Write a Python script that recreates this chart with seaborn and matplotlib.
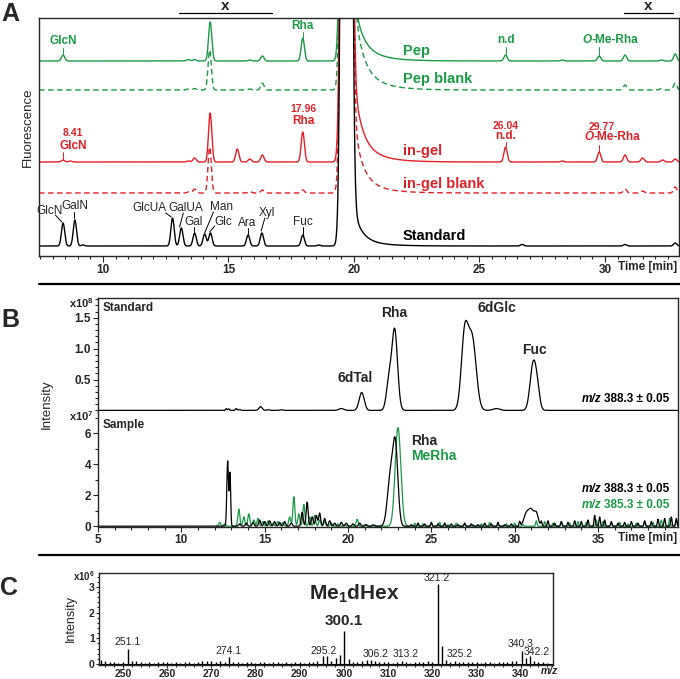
import numpy as np
import matplotlib
matplotlib.use('Agg')
import matplotlib.pyplot as plt
import seaborn as sns
from matplotlib.lines import Line2D
from matplotlib.offsetbox import TextArea, HPacker, AnnotationBbox
from matplotlib.ticker import MultipleLocator, FixedLocator

sns.set_style('ticks')
plt.rcParams['font.family'] = ['Liberation Sans', 'DejaVu Sans']
plt.rcParams['font.weight'] = 'bold'
plt.rcParams['mathtext.fontset'] = 'custom'
plt.rcParams['mathtext.rm'] = 'Liberation Sans'
plt.rcParams['mathtext.bf'] = 'Liberation Sans:bold'
plt.rcParams['mathtext.it'] = 'Liberation Sans:italic'
plt.rcParams['axes.linewidth'] = 1.0

GREEN = '#1c9a48'
RED = '#e3202a'
W, H = 680, 679

# ---------------- panel A: fluorescence traces (peak tables) ----------------
a_names = ['Pep', 'Pep blank', 'in-gel', 'in-gel blank', 'Standard']
a_offsets = [195, 166, 94, 63, 10]
a_colors = [GREEN, GREEN, RED, RED, 'black']
a_dashed = [False, True, False, True, False]

pep_rt = [8.41, 13.4, 13.65, 14.27, 15.85, 16.35, 17.96, 26.04, 28.3, 29.77, 30.8, 32.25, 32.8]
pep_h = [6, 1.5, 1.5, 39, 1, 5, 23, 6, 1, 5, 6, 1, 7]
pepb_rt = [13.4, 13.65, 14.25, 15.85, 16.35, 30.8, 32.25, 32.8]
pepb_h = [1, 1.5, 40, 1, 7, 5, 1.5, 7]
gel_rt = [8.41, 8.7, 13.4, 13.65, 14.27, 15.35, 15.85, 16.35, 17.96, 26.04, 28.3, 29.77, 30.8, 31.5, 32.3, 32.8]
gel_h = [2, 1, 1, 4, 49, 13, 3, 7, 30, 15, 1, 10, 7, 4, 2, 3]
gelb_rt = [13.4, 13.65, 14.25, 15.85, 16.35, 17.96, 30.8, 31.5, 32.8]
gelb_h = [1, 4, 46, 1.5, 3, 3, 4, 2, 6]
std_rt = [8.41, 8.88, 9.2, 12.77, 13.12, 13.65, 14.05, 14.28, 15.78, 16.33, 17.96, 18.6, 26.7, 30.8, 32.8]
std_h = [23, 26, 1, 28, 18, 13, 12, 13, 11, 13, 11, 1, 1.5, 1.5, 3]
a_sd = 0.065

void_rt, void_h, void_sd = 19.7, 3000, 0.12
a_tail_fast = [45, 65, 60, 55, 28]
a_tail_slow = [18, 26, 21, 18, 8]

# ---------------- panel B: extracted ion chromatograms ----------------
bs_rt = [12.7, 12.85, 13.3, 13.5, 14.75, 15.2, 16.0, 19.6, 20.82, 22.45, 22.8, 27.0, 27.45, 28.9, 31.1, 31.35]
bs_h = [0.03, 0.025, 0.03, 0.015, 0.06, 0.01, 0.01, 0.03, 0.29, 0.45, 1.3, 1.2, 1.15, 0.03, 0.72, 0.3]
bs_sd = [0.04, 0.04, 0.05, 0.05, 0.1, 0.08, 0.08, 0.15, 0.15, 0.15, 0.17, 0.2, 0.24, 0.2, 0.18, 0.15]

bk_rt = [12.78, 12.92, 13.5, 13.9, 14.3, 14.7, 15.0, 15.3, 15.6, 15.9, 16.2, 16.6, 17.25, 17.55,
         17.85, 18.1, 18.3, 18.6, 18.9, 19.2, 19.6, 19.9, 20.3, 20.7, 21.1, 21.5, 22.55, 22.85,
         23.8, 24.2, 24.6, 25.0, 25.4, 25.8, 26.2, 26.6, 27.0, 27.4, 27.8, 28.2, 28.6, 29.0, 29.4,
         29.8, 30.3, 30.7, 31.0, 31.3, 31.6, 32.0, 32.4, 32.8, 33.2, 33.6, 34.0, 34.4, 34.8, 35.1,
         35.4, 35.8, 36.2, 36.6, 37.0, 37.4, 37.8, 38.2, 38.6, 39.0, 39.4, 39.7]
bk_h = [4.2, 3.4, 0.15, 0.2, 0.25, 0.4, 0.3, 0.35, 0.3, 0.25, 0.3, 0.2, 0.9, 1.55,
        0.6, 0.7, 0.85, 0.5, 0.35, 0.2, 0.25, 0.2, 0.15, 0.2, 0.1, 0.08, 3.2, 4.8,
        0.1, 0.2, 0.15, 0.25, 0.15, 0.2, 0.15, 0.1, 0.2, 0.15, 0.1, 0.2, 0.15, 0.25, 0.1,
        0.15, 0.3, 0.8, 1.0, 0.8, 0.3, 0.35, 0.2, 0.3, 0.25, 0.35, 0.3, 0.4, 0.7, 0.6,
        0.4, 0.3, 0.2, 0.25, 0.3, 0.2, 0.35, 0.3, 0.45, 0.5, 0.6, 0.5]
bk_sd = [0.05, 0.04] + [0.06] * 24 + [0.18, 0.15] + [0.04] * 17 + [0.15, 0.15, 0.12] + [0.04] * 22

gr_rt = [12.3, 12.6, 13.45, 13.75, 14.05, 14.35, 14.6, 14.9, 15.2, 15.5, 15.8, 16.1, 16.5, 16.75,
         17.05, 17.35, 17.7, 18.0, 18.3, 18.6, 19.0, 19.4, 19.8, 20.55, 21.0, 21.6, 23.0,
         24.0, 24.5, 25.0, 25.5, 26.0, 26.5, 27.0, 27.5, 28.0, 28.5, 29.0, 29.5, 30.0, 30.5,
         31.3, 31.8, 32.3, 32.8, 33.3, 33.8, 34.3, 34.9, 35.3, 35.8, 36.3, 36.8, 37.3, 37.8,
         38.3, 38.8, 39.3, 39.7]
gr_h = [0.25, 0.15, 1.1, 0.6, 0.8, 0.4, 0.5, 0.3, 0.35, 0.2, 0.3, 0.25, 0.6, 1.9,
        0.8, 1.4, 0.6, 0.7, 0.4, 0.3, 0.2, 0.15, 0.1, 0.45, 0.1, 0.08, 6.35,
        0.2, 0.15, 0.2, 0.25, 0.1, 0.2, 0.15, 0.1, 0.15, 0.25, 0.1, 0.15, 0.2, 0.1,
        0.35, 0.3, 0.2, 0.3, 0.2, 0.3, 0.25, 0.4, 0.3, 0.2, 0.25, 0.15, 0.2, 0.3,
        0.25, 0.4, 0.5, 0.4]
gr_sd = [0.06] * 26 + [0.17] + [0.04] * 32

# ---------------- panel C: MS spectrum (x10^6) ----------------
c_mz = [245, 246, 247, 248, 249, 250, 251.1, 252, 253, 254, 255, 256, 257, 258, 259, 260,
        261, 262, 263, 264, 265, 266, 267, 268, 269, 270, 271, 272, 273, 274.1, 275, 276,
        277, 278, 279, 280, 281, 282, 283, 284, 285, 286, 287, 288, 289, 290, 291, 292,
        293, 294, 295.2, 296.2, 297, 298.2, 299.2, 300.1, 301.1, 302, 303, 304, 305.2, 306.2,
        307, 308, 309, 310, 311, 312, 313.2, 314, 315, 316, 317, 318, 319, 320, 321.2,
        322.2, 323, 324, 325.2, 326, 327, 328, 329, 330, 331, 332, 333, 334, 335, 336,
        337, 338, 339, 340.3, 341.3, 342.2, 343, 344, 345, 346]
c_int = [0.14, 0.10, 0.07, 0.06, 0.05, 0.07, 0.58, 0.12, 0.10, 0.06, 0.05, 0.07, 0.05,
         0.06, 0.08, 0.06, 0.05, 0.07, 0.05, 0.06, 0.07, 0.05, 0.06, 0.10, 0.13, 0.10,
         0.08, 0.12, 0.07, 0.26, 0.08, 0.06, 0.05, 0.06, 0.07, 0.05, 0.06, 0.08, 0.05,
         0.06, 0.07, 0.05, 0.06, 0.05, 0.06, 0.07, 0.05, 0.06, 0.08, 0.10, 0.30, 0.30,
         0.12, 0.22, 0.35, 1.30, 0.20, 0.08, 0.06, 0.10, 0.14, 0.17, 0.12, 0.08, 0.07,
         0.06, 0.05, 0.07, 0.12, 0.06, 0.05, 0.07, 0.06, 0.08, 0.10, 0.07, 3.10, 0.68,
         0.15, 0.08, 0.12, 0.07, 0.06, 0.08, 0.06, 0.07, 0.05, 0.06, 0.07, 0.05, 0.06,
         0.08, 0.07, 0.10, 0.12, 0.52, 0.22, 0.30, 0.12, 0.07, 0.06, 0.05]


def peaks(t, rts, hs, sds):
    sds = np.broadcast_to(sds, (len(rts),))
    y = np.zeros_like(t)
    for r, h, s in zip(rts, hs, sds):
        y += h * np.exp(-0.5 * ((t - r) / s) ** 2)
    return y


def fpx(x, y):
    return x / W, 1 - y / H


def box(l, t, r, b):
    return [l / W, 1 - b / H, (r - l) / W, (b - t) / H]


def styled(ax, xy, parts, size, color, align):
    kids = [TextArea(s, textprops=dict(fontsize=size, color=color, fontweight='bold', fontstyle=st))
            for s, st in parts]
    pack = HPacker(children=kids, pad=0, sep=2 if len(parts) > 1 and parts[0][0] == 'm/z' else 0,
                   align='baseline')
    ab = AnnotationBbox(pack, xy, xycoords='data', box_alignment=align, frameon=False, pad=0)
    ax.add_artist(ab)


def bold_ticks(ax, size):
    for lab in ax.get_xticklabels() + ax.get_yticklabels():
        lab.set_fontweight('bold')
        lab.set_fontsize(size)


fig = plt.figure(figsize=(6.8, 6.79), dpi=100)
ax_a = fig.add_axes(box(39, 18, 679, 256))
ax_bs = fig.add_axes(box(98, 298, 678, 411))
ax_bm = fig.add_axes(box(98, 411, 678, 527), sharex=ax_bs)
ax_c = fig.add_axes(box(99, 573, 553, 665))

# ---- panel A ----
t_a = np.arange(7.3, 33.1, 0.01)
a_tables = [(pep_rt, pep_h), (pepb_rt, pepb_h), (gel_rt, gel_h), (gelb_rt, gelb_h), (std_rt, std_h)]
for i, (rts, hs) in enumerate(a_tables):
    y = a_offsets[i] + peaks(t_a, rts, hs, a_sd) + peaks(t_a, [void_rt], [void_h], void_sd)
    tail = a_tail_fast[i] * np.exp(-(t_a - 20) / 0.3) + a_tail_slow[i] * np.exp(-(t_a - 20) / 0.8)
    y = y + np.where(t_a > void_rt, tail, 0)
    sns.lineplot(x=t_a, y=y, ax=ax_a, color=a_colors[i], lw=1.0, estimator=None,
                 linestyle=(0, (4, 2.5)) if a_dashed[i] else '-')

ax_a.set_xlim(7.45, 32.95)
ax_a.set_ylim(0, 238)
ax_a.set_yticks([])
ax_a.xaxis.set_major_locator(FixedLocator([10, 15, 20, 25, 30]))
ax_a.xaxis.set_minor_locator(MultipleLocator(0.5))
ax_a.tick_params(axis='x', which='major', length=4, width=0.8, pad=1.5)
ax_a.tick_params(axis='x', which='minor', length=2.5, width=0.8)
ax_a.set_xlabel('')
ax_a.set_ylabel('')
bold_ticks(ax_a, 8.5)

label_y = [205, 177, 105, 72, 20]
for name, yy, c in zip(a_names, label_y, a_colors):
    ax_a.text(21.95, yy, name, color=c, fontsize=10.5, fontweight='bold', va='center', ha='left')

# standard peak labels with leaders
std_labels = [('GlcN', 7.89, 45, (8.1, 41, 8.36, 34)),
              ('GalN', 8.88, 50, (8.86, 44, 8.86, 38)),
              ('GlcUA', 11.85, 48, (12.5, 43, 12.72, 39)),
              ('GalUA', 13.3, 48, (13.2, 43, 13.05, 29)),
              ('Gal', 13.62, 34, (13.64, 29, 13.64, 24)),
              ('Man', 14.74, 49, (14.4, 44, 14.05, 23)),
              ('Glc', 14.8, 34, (14.45, 30, 14.25, 24)),
              ('Ara', 15.74, 33, (15.76, 28, 15.76, 22)),
              ('Xyl', 16.55, 43, (16.45, 38, 16.3, 25)),
              ('Fuc', 17.96, 34, (17.96, 29, 17.96, 22))]
for name, tx, ty, (x0, y0, x1, y1) in std_labels:
    ax_a.text(tx, ty, name, fontsize=8.5, fontweight='normal', ha='center', va='center')
    ax_a.plot([x0, x1], [y0, y1], color='black', lw=0.7)

# green labels
ax_a.text(8.41, 209, 'GlcN', color=GREEN, fontsize=8.5, ha='center', va='bottom')
ax_a.plot([8.41, 8.41], [202, 208], color=GREEN, lw=0.7)
ax_a.text(17.96, 224, 'Rha', color=GREEN, fontsize=8.5, ha='center', va='bottom')
ax_a.plot([17.96, 17.96], [219, 224], color=GREEN, lw=0.7)
ax_a.text(26.04, 210, 'n.d', color=GREEN, fontsize=8.5, ha='center', va='bottom')
ax_a.plot([26.04, 26.04], [202, 209], color=GREEN, lw=0.7)
styled(ax_a, (30.2, 210), [('O', 'italic'), ('-Me-Rha', 'normal')], 8.5, GREEN, (0.5, 0))
ax_a.plot([29.77, 29.77], [201, 209], color=GREEN, lw=0.7)

# red labels
ax_a.text(8.8, 123, '8.41', color=RED, fontsize=7.5, ha='center', va='center')
ax_a.text(8.8, 110, 'GlcN', color=RED, fontsize=8.5, ha='center', va='center')
ax_a.plot([8.41, 8.41], [97, 104], color=RED, lw=0.7)
ax_a.text(17.97, 147, '17.96', color=RED, fontsize=7.5, ha='center', va='center')
ax_a.text(17.97, 135, 'Rha', color=RED, fontsize=8.5, ha='center', va='center')
ax_a.text(26.06, 130, '26.04', color=RED, fontsize=7.5, ha='center', va='center')
ax_a.text(26.06, 120, 'n.d.', color=RED, fontsize=8.5, ha='center', va='center')
ax_a.plot([26.04, 26.04], [110, 114], color=RED, lw=0.7)
ax_a.text(29.88, 129, '29.77', color=RED, fontsize=7.5, ha='center', va='center')
styled(ax_a, (30.3, 119), [('O', 'italic'), ('-Me-Rha', 'normal')], 8.5, RED, (0.5, 0.5))
ax_a.plot([29.77, 29.77], [104, 111], color=RED, lw=0.7)

# ---- panel B ----
t_b = np.arange(5.0, 39.85, 0.01)
y_std = peaks(t_b, bs_rt, bs_h, bs_sd)
y_bk = peaks(t_b, bk_rt, bk_h, bk_sd)
y_gr = np.where(t_b > 12.1, peaks(t_b, gr_rt, gr_h, gr_sd), np.nan)
sns.lineplot(x=t_b, y=y_std, ax=ax_bs, color='black', lw=0.9, estimator=None)
sns.lineplot(x=t_b, y=y_gr, ax=ax_bm, color=GREEN, lw=0.9, estimator=None)
sns.lineplot(x=t_b, y=y_bk, ax=ax_bm, color='black', lw=0.9, estimator=None)

ax_bs.set_xlim(5, 39.8)
ax_bs.set_ylim(-0.01, 1.82)
ax_bm.set_ylim(-0.05, 7.42)
ax_bs.spines['bottom'].set_visible(False)
ax_bm.spines['top'].set_visible(False)
ax_bs.tick_params(axis='x', which='both', bottom=False, labelbottom=False)
ax_bs.yaxis.set_major_locator(FixedLocator([0.5, 1.0, 1.5]))
ax_bs.yaxis.set_minor_locator(MultipleLocator(0.1))
ax_bm.yaxis.set_major_locator(FixedLocator([0, 2, 4, 6]))
ax_bm.yaxis.set_minor_locator(MultipleLocator(1))
ax_bm.xaxis.set_major_locator(FixedLocator([5, 10, 15, 20, 25, 30, 35]))
ax_bm.xaxis.set_minor_locator(MultipleLocator(1))
for ax in (ax_bs, ax_bm):
    ax.tick_params(which='major', length=3.5, width=0.8, pad=1.5)
    ax.tick_params(which='minor', length=2, width=0.8)
    ax.set_xlabel('')
    ax.set_ylabel('')
bold_ticks(ax_bs, 8.5)
bold_ticks(ax_bm, 8.5)

ax_bs.text(5.25, 1.66, 'Standard', fontsize=8.5, va='center', ha='left')
ax_bs.text(20.45, 0.52, '6dTal', fontsize=10, va='center', ha='center')
ax_bs.text(22.8, 1.58, 'Rha', fontsize=10, va='center', ha='center')
ax_bs.text(28.93, 1.65, '6dGlc', fontsize=10, va='center', ha='center')
ax_bs.text(31.16, 0.98, 'Fuc', fontsize=10, va='center', ha='center')
styled(ax_bs, (39.27, 0.18), [('m/z', 'italic'), ('388.3 ± 0.05', 'normal')], 8.5, 'black', (1, 0.5))

ax_bm.text(5.25, 6.5, 'Sample', fontsize=8.5, va='center', ha='left')
ax_bm.text(23.76, 5.48, 'Rha', fontsize=10, va='center', ha='left')
ax_bm.text(23.76, 4.52, 'MeRha', fontsize=10, va='center', ha='left', color=GREEN)
styled(ax_bm, (39.27, 2.39), [('m/z', 'italic'), ('388.3 ± 0.05', 'normal')], 8.5, 'black', (1, 0.5))
styled(ax_bm, (39.27, 1.35), [('m/z', 'italic'), ('385.3 ± 0.05', 'normal')], 8.5, GREEN, (1, 0.5))

# ---- panel C ----
ax_c.vlines(c_mz, 0, c_int, color='black', lw=1.0)
sns.lineplot(x=[244.6, 347.3], y=[0, 0], ax=ax_c, color='black', lw=0.8, estimator=None)
ax_c.set_xlim(244.6, 347.3)
ax_c.set_ylim(-0.04, 3.54)
ax_c.xaxis.set_major_locator(FixedLocator([250, 260, 270, 280, 290, 300, 310, 320, 330, 340]))
ax_c.xaxis.set_minor_locator(MultipleLocator(2))
ax_c.yaxis.set_major_locator(FixedLocator([0, 1, 2, 3]))
ax_c.yaxis.set_minor_locator(MultipleLocator(0.2))
ax_c.tick_params(which='major', length=2.5, width=0.8, pad=0.5)
ax_c.tick_params(which='minor', length=1.6, width=0.8)
ax_c.set_xlabel('')
ax_c.set_ylabel('')
bold_ticks(ax_c, 7.5)

c_labels = [('251.1', 251.1, 0.66), ('274.1', 274.0, 0.30), ('295.2', 295.3, 0.32),
            ('306.2', 307.1, 0.20), ('313.2', 313.9, 0.20), ('321.2', 320.9, 3.14),
            ('325.2', 326.3, 0.20), ('340.3', 339.9, 0.60), ('342.2', 343.6, 0.28)]
for txt, xx, yy in c_labels:
    ax_c.text(xx, yy, txt, fontsize=7.5, fontweight='normal', ha='center', va='bottom')
ax_c.text(300.0, 1.40, '300.1', fontsize=11, ha='center', va='bottom')
ax_c.text(302.3, 2.72, r'Me$_\mathbf{1}$dHex', fontsize=15, ha='center', va='center')

# ---- figure-level texts and rules ----
fig.text(*fpx(10, 14), 'A', fontsize=18, ha='center', va='center')
fig.text(*fpx(10, 320), 'B', fontsize=18, ha='center', va='center')
fig.text(*fpx(9, 588), 'C', fontsize=18, ha='center', va='center')
fig.text(*fpx(28, 127), 'Fluorescence', fontsize=9.5, fontweight='normal', rotation=90,
         ha='center', va='center')
fig.text(*fpx(47, 404), 'Intensity', fontsize=9.5, fontweight='normal', rotation=90,
         ha='center', va='center')
fig.text(*fpx(71, 618), 'Intensity', fontsize=9, fontweight='normal', rotation=90,
         ha='center', va='center')
fig.text(*fpx(648, 267), 'Time [min]', fontsize=8.5, ha='center', va='center')
fig.text(*fpx(648, 538), 'Time [min]', fontsize=8.5, ha='center', va='center')
fig.text(*fpx(550, 671), 'm/z', fontsize=7.5, fontstyle='italic', ha='center', va='center')
fig.text(*fpx(94, 303), r'x10$^\mathbf{8}$', fontsize=8, ha='right', va='center')
fig.text(*fpx(94, 416), r'x10$^\mathbf{7}$', fontsize=8, ha='right', va='center')
fig.text(*fpx(95, 576), r'x10$^\mathbf{6}$', fontsize=7, ha='right', va='center')

fig.text(*fpx(225, 9.5), 'x', fontsize=11, ha='center', va='baseline')
fig.text(*fpx(648, 9.5), 'x', fontsize=11, ha='center', va='baseline')
for (x0, x1) in [(179, 272), (624, 673)]:
    fig.add_artist(Line2D([x0 / W, x1 / W], [1 - 12.5 / H] * 2, color='black', lw=0.9))
for yy in (284, 555):
    fig.add_artist(Line2D([39 / W, 680 / W], [1 - yy / H] * 2, color='black', lw=1.6))

fig.savefig('out.png', dpi=100)
